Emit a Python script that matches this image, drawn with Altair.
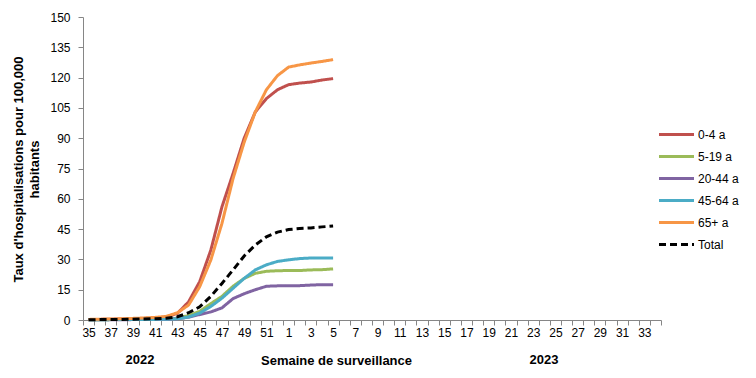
import json
import altair as alt
import pandas as pd

# Week categories on the x axis (surveillance weeks 2022-2023)
weeks = list(range(35, 53)) + list(range(1, 35))
data_weeks = [35, 36, 37, 38, 39, 40, 41, 42, 43, 44, 45, 46, 47, 48, 49, 50, 51, 52, 1, 2, 3, 4, 5]

series_names = ["0-4 a", "5-19 a", "20-44 a", "45-64 a", "65+ a", "Total"]

v_0_4 = [0.2, 0.3, 0.4, 0.5, 0.6, 0.8, 1.0, 1.5, 3.3, 9.0, 19.0, 34.6, 56.0, 72.5, 90.0, 103.0,
         109.6, 114.0, 116.5, 117.3, 117.8, 118.8, 119.5]
v_5_19 = [0.1, 0.1, 0.2, 0.2, 0.3, 0.3, 0.4, 0.5, 0.9, 2.2, 4.3, 8.1, 11.7, 16.7, 20.6, 23.1,
          24.1, 24.4, 24.5, 24.5, 24.8, 24.9, 25.3]
v_20_44 = [0.1, 0.1, 0.1, 0.1, 0.2, 0.2, 0.2, 0.3, 0.6, 1.4, 2.7, 4.0, 6.0, 10.6, 13.0, 15.0,
           16.7, 16.9, 17.0, 17.0, 17.3, 17.5, 17.5]
v_45_64 = [0.1, 0.1, 0.2, 0.2, 0.2, 0.3, 0.3, 0.4, 0.6, 1.5, 3.4, 6.7, 10.8, 15.7, 20.6, 24.8,
           27.3, 29.0, 29.8, 30.4, 30.7, 30.7, 30.7]
v_65 = [0.3, 0.4, 0.5, 0.6, 0.8, 1.0, 1.3, 1.8, 3.6, 7.4, 16.5, 29.7, 47.8, 70.0, 88.0, 103.0,
        114.0, 121.0, 125.2, 126.3, 127.2, 128.0, 128.9]
v_total = [0.1, 0.2, 0.2, 0.3, 0.4, 0.5, 0.6, 0.9, 1.6, 3.6, 6.5, 11.7, 18.1, 24.8, 31.7, 37.1,
           41.2, 43.5, 44.8, 45.3, 45.6, 46.1, 46.5]

colors = ["#C0504D", "#9BBB59", "#8064A2", "#4BACC6", "#F79646", "#000000"]
dashes = [[1, 0], [1, 0], [1, 0], [1, 0], [1, 0], [7, 4]]

y_ticks = [0, 15, 30, 45, 60, 75, 90, 105, 120, 135, 150]

rows = []
for name, vals in zip(series_names, [v_0_4, v_5_19, v_20_44, v_45_64, v_65, v_total]):
    for w, v in zip(data_weeks, vals):
        rows.append({"series": name, "week": w, "pos": weeks.index(w), "value": v})
df = pd.DataFrame(rows)

n = len(weeks)
x_values = [i - 0.5 for i in range(n + 1)] + list(range(0, n, 2))
label_expr = "datum.value % 1 == 0 ? '' + " + json.dumps(weeks) + "[datum.value] : ''"

FONT = "Liberation Sans"

legend = alt.Legend(
    title=None, orient="none", legendX=585, legendY=109, padding=0,
    symbolType="M-2.5,0L2.5,0", symbolSize=196, symbolStrokeWidth=3,
    labelFont=FONT, labelFontSize=12, labelColor="#000000", labelOffset=13,
    rowPadding=7,
)

lines = alt.Chart(df).mark_line(strokeWidth=3).encode(
    x=alt.X("pos:Q",
            scale=alt.Scale(domain=[-0.5, n - 0.5], nice=False, zero=False),
            axis=alt.Axis(values=x_values, labelExpr=label_expr, title="Semaine de surveillance",
                          titleX=253, titleY=40, titleAnchor="start", titleAlign="center",
                          titleBaseline="middle",
                          tickOpacity={"condition": {"test": "datum.value % 1 == 0", "value": 0}, "value": 1},
                          labelOverlap=False, labelFlush=False, tickSize=5, labelPadding=2)),
    y=alt.Y("value:Q",
            scale=alt.Scale(domain=[0, 150], nice=False),
            axis=alt.Axis(values=y_ticks, tickSize=5, labelPadding=8, titlePadding=8,
                          titleAlign="center", titleY=152, titleLineHeight=16,
                          title=["Taux d'hospitalisations pour 100,000", "habitants"])),
    color=alt.Color("series:N", scale=alt.Scale(domain=series_names, range=colors), legend=legend),
    strokeDash=alt.StrokeDash("series:N", scale=alt.Scale(domain=series_names, range=dashes), legend=legend),
)

year_df = pd.DataFrame({"label": ["2022", "2023"], "px": [57, 461]})
years = alt.Chart(year_df).mark_text(font=FONT, fontSize=13, fontWeight="bold", color="#000000",
                                     baseline="middle", align="center").encode(
    x=alt.X("px:Q", scale=None), y=alt.value(343), text="label:N")

chart = alt.layer(lines, years).properties(
    width=578, height=303,
    autosize=alt.AutoSizeParams(type="none"),
    padding={"left": 75, "top": 9, "right": 87, "bottom": 50},
).configure_view(stroke=None).configure_axis(
    grid=False, domainColor="#868686", tickColor="#868686",
    labelFont=FONT, labelFontSize=12, labelColor="#000000",
    titleFont=FONT, titleFontSize=13, titleFontWeight="bold", titleColor="#000000",
)

chart.save("out.html", embed_options={"renderer": "svg", "actions": False})
